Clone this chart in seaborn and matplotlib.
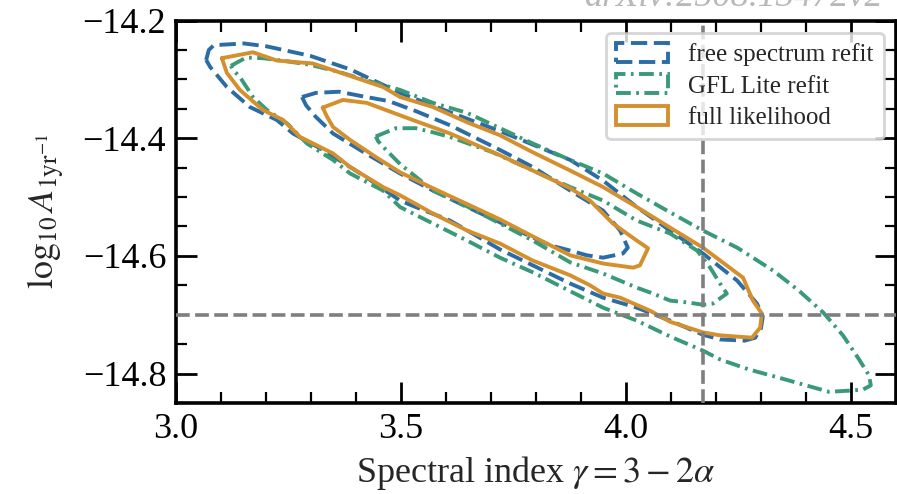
import matplotlib
matplotlib.use("Agg")
import matplotlib.pyplot as plt
import matplotlib.ticker as mticker
from matplotlib.patches import Patch
import pandas as pd
import seaborn as sns

# ---------------- data ----------------
series_names = ["free spectrum refit", "GFL Lite refit", "full likelihood"]
series_colors = ["#2c6ca6", "#3a9a78", "#d4902e"]

# free spectrum refit
blue_outer_x = [3.067, 3.073, 3.084, 3.151, 3.202, 3.298, 3.387, 3.498, 3.609, 3.720, 3.876, 3.949, 4.024,
                4.098, 4.171, 4.247, 4.291, 4.304, 4.300, 4.287, 4.264, 4.209, 4.171, 4.098, 4.024, 3.949,
                3.876, 3.720, 3.609, 3.533, 3.498, 3.422, 3.327, 3.260, 3.224, 3.164, 3.113, 3.076, 3.067]
blue_outer_y = [-14.267, -14.250, -14.242, -14.239, -14.244, -14.260, -14.283, -14.323, -14.356, -14.388,
                -14.437, -14.472, -14.517, -14.557, -14.596, -14.642, -14.681, -14.703, -14.723, -14.739,
                -14.744, -14.742, -14.734, -14.710, -14.688, -14.671, -14.647, -14.589, -14.540, -14.517,
                -14.506, -14.466, -14.420, -14.392, -14.369, -14.347, -14.313, -14.279, -14.267]
blue_inner_x = [3.280, 3.311, 3.362, 3.416, 3.473, 3.533, 3.609, 3.720, 3.793, 3.876, 3.949, 3.987, 4.004,
                3.993, 3.949, 3.913, 3.876, 3.831, 3.720, 3.647, 3.571, 3.498, 3.422, 3.349, 3.311, 3.289, 3.280]
blue_inner_y = [-14.330, -14.323, -14.321, -14.329, -14.337, -14.354, -14.378, -14.420, -14.449, -14.489,
                -14.523, -14.557, -14.586, -14.596, -14.603, -14.599, -14.591, -14.582, -14.543, -14.517,
                -14.489, -14.460, -14.426, -14.392, -14.364, -14.344, -14.330]

# GFL Lite refit
green_outer_x = [3.122, 3.156, 3.193, 3.244, 3.296, 3.356, 3.416, 3.498, 3.571, 3.647, 3.720, 3.793, 3.876,
                 3.949, 4.024, 4.098, 4.171, 4.247, 4.327, 4.384, 4.438, 4.482, 4.518, 4.540, 4.544, 4.527,
                 4.496, 4.451, 4.400, 4.340, 4.273, 4.209, 4.171, 4.098, 4.024, 3.949, 3.876, 3.793, 3.720,
                 3.647, 3.571, 3.498, 3.460, 3.387, 3.349, 3.291, 3.247, 3.202, 3.171, 3.142, 3.127, 3.122]
green_outer_y = [-14.277, -14.263, -14.264, -14.269, -14.275, -14.286, -14.300, -14.318, -14.340, -14.357,
                 -14.383, -14.409, -14.437, -14.460, -14.494, -14.526, -14.557, -14.586, -14.625, -14.659,
                 -14.696, -14.735, -14.776, -14.803, -14.820, -14.827, -14.829, -14.831, -14.820, -14.807,
                 -14.793, -14.776, -14.761, -14.737, -14.710, -14.688, -14.660, -14.628, -14.603, -14.574,
                 -14.545, -14.517, -14.489, -14.460, -14.437, -14.409, -14.375, -14.352, -14.330, -14.296,
                 -14.284, -14.277]
green_inner_x = [3.444, 3.489, 3.533, 3.571, 3.609, 3.704, 3.793, 3.876, 3.949, 4.024, 4.098, 4.158, 4.187,
                 4.209, 4.224, 4.193, 4.171, 4.136, 4.098, 4.060, 4.024, 3.949, 3.876, 3.793, 3.720, 3.647,
                 3.571, 3.498, 3.467, 3.449, 3.444]
green_inner_y = [-14.397, -14.383, -14.383, -14.390, -14.398, -14.424, -14.455, -14.483, -14.506, -14.540,
                 -14.562, -14.591, -14.620, -14.647, -14.664, -14.681, -14.683, -14.679, -14.676, -14.664,
                 -14.654, -14.630, -14.611, -14.574, -14.545, -14.516, -14.489, -14.444, -14.420, -14.405,
                 -14.397]

# full likelihood
orange_outer_x = [3.102, 3.171, 3.224, 3.304, 3.371, 3.460, 3.498, 3.571, 3.647, 3.720, 3.793, 3.876, 3.949,
                  4.024, 4.098, 4.171, 4.260, 4.282, 4.302, 4.298, 4.280, 4.209, 4.171, 4.098, 4.053, 3.987,
                  3.949, 3.920, 3.876, 3.793, 3.720, 3.647, 3.571, 3.498, 3.460, 3.387, 3.349, 3.276, 3.238,
                  3.193, 3.142, 3.113, 3.102]
orange_outer_y = [-14.264, -14.254, -14.268, -14.273, -14.290, -14.313, -14.330, -14.347, -14.373, -14.395,
                  -14.424, -14.455, -14.483, -14.517, -14.552, -14.586, -14.637, -14.676, -14.698, -14.722,
                  -14.739, -14.735, -14.730, -14.712, -14.693, -14.671, -14.664, -14.650, -14.633, -14.608,
                  -14.579, -14.557, -14.528, -14.497, -14.483, -14.449, -14.426, -14.398, -14.369, -14.352,
                  -14.318, -14.289, -14.264]
orange_inner_x = [3.326, 3.371, 3.424, 3.473, 3.533, 3.609, 3.720, 3.793, 3.876, 3.920, 3.971, 4.024, 4.049,
                  4.031, 4.016, 3.949, 3.876, 3.793, 3.720, 3.647, 3.571, 3.498, 3.444, 3.387, 3.349, 3.336,
                  3.326]
orange_inner_y = [-14.348, -14.335, -14.340, -14.354, -14.371, -14.392, -14.429, -14.455, -14.485, -14.506,
                  -14.545, -14.574, -14.587, -14.616, -14.620, -14.613, -14.599, -14.567, -14.538, -14.512,
                  -14.485, -14.458, -14.432, -14.403, -14.381, -14.364, -14.348]

truth_gamma = 4.17
truth_log10A = -14.7

x_ticks = [3.0, 3.5, 4.0, 4.5]
y_ticks = [-14.8, -14.6, -14.4, -14.2]

# ---------------- assemble ----------------
contours = [
    (series_names[0], "outer", blue_outer_x, blue_outer_y),
    (series_names[0], "inner", blue_inner_x, blue_inner_y),
    (series_names[1], "outer", green_outer_x, green_outer_y),
    (series_names[1], "inner", green_inner_x, green_inner_y),
    (series_names[2], "outer", orange_outer_x, orange_outer_y),
    (series_names[2], "inner", orange_inner_x, orange_inner_y),
]
rows = []
for name, level, xs, ys in contours:
    for i, (xv, yv) in enumerate(zip(xs, ys)):
        rows.append({"gamma": xv, "log10A": yv, "series": name,
                     "contour": f"{name}-{level}", "order": i})
df = pd.DataFrame(rows)

sns.set_theme(style="ticks")
plt.rcParams.update({
    "font.family": ["Liberation Serif", "DejaVu Serif"],
    "mathtext.fontset": "stix",
    "axes.linewidth": 2.6,
    "xtick.direction": "in", "ytick.direction": "in",
    "xtick.top": True, "ytick.right": True,
    "xtick.major.size": 15, "ytick.major.size": 15,
    "xtick.minor.size": 8, "ytick.minor.size": 8,
    "xtick.major.width": 2.0, "ytick.major.width": 2.0,
    "xtick.minor.width": 1.6, "ytick.minor.width": 1.6,
    "xtick.labelsize": 26, "ytick.labelsize": 26,
    "xtick.major.pad": 7, "ytick.major.pad": 7,
    "axes.labelsize": 26,
    "xtick.color": "black", "ytick.color": "black",
    "axes.edgecolor": "black",
})

fig = plt.figure(figsize=(8.97, 4.94), dpi=100)
ax = fig.add_axes([0.1962, 0.1842, 0.8027, 0.7743])

palette = dict(zip(series_names, series_colors))
dashes = {series_names[0]: (4.2, 1.7), series_names[1]: (3.8, 1.4, 0.7, 1.4), series_names[2]: ""}

sns.lineplot(data=df, x="gamma", y="log10A", hue="series", style="series", units="contour",
             estimator=None, sort=False, palette=palette, dashes=dashes, linewidth=2.8,
             legend=False, ax=ax, hue_order=series_names, style_order=series_names)

ax.axhline(truth_log10A, color="#7f7f7f", lw=2.6, ls=(0, (3.8, 1.5)), zorder=3)
ax.axvline(truth_gamma, color="#7f7f7f", lw=2.6, ls=(0, (3.8, 1.5)), zorder=3)

ax.set_xlim(3.0, 4.6)
ax.set_ylim(-14.85, -14.2)
ax.set_xticks(x_ticks)
ax.set_yticks(y_ticks)
ax.xaxis.set_minor_locator(mticker.MultipleLocator(0.1))
ax.yaxis.set_minor_locator(mticker.MultipleLocator(0.05))
ax.set_xlabel(r"Spectral index $\gamma = 3 - 2\alpha$", labelpad=6)
ax.set_ylabel(r"$\log_{10}A_{\mathrm{1yr}^{-1}}$", labelpad=11)

handles = [Patch(facecolor="none", edgecolor=c, linewidth=2.8,
                 linestyle=(0, d) if d else "-", label=n)
           for n, c, d in zip(series_names, series_colors, [dashes[s] for s in series_names])]
leg = ax.legend(handles=handles, loc="upper right", fontsize=18, frameon=True, fancybox=True,
                handlelength=2.1, handleheight=0.8, handletextpad=0.8, labelspacing=0.32,
                borderpad=0.4, borderaxespad=0.5)
leg.get_frame().set_edgecolor("#cccccc")
leg.get_frame().set_linewidth(2.0)

fig.text(0.985, 1.005, "arXiv:2508.13472v2", ha="right", va="center", fontsize=26,
         color="#b8b8b8", fontstyle="italic")

fig.savefig("out.png", dpi=100)
